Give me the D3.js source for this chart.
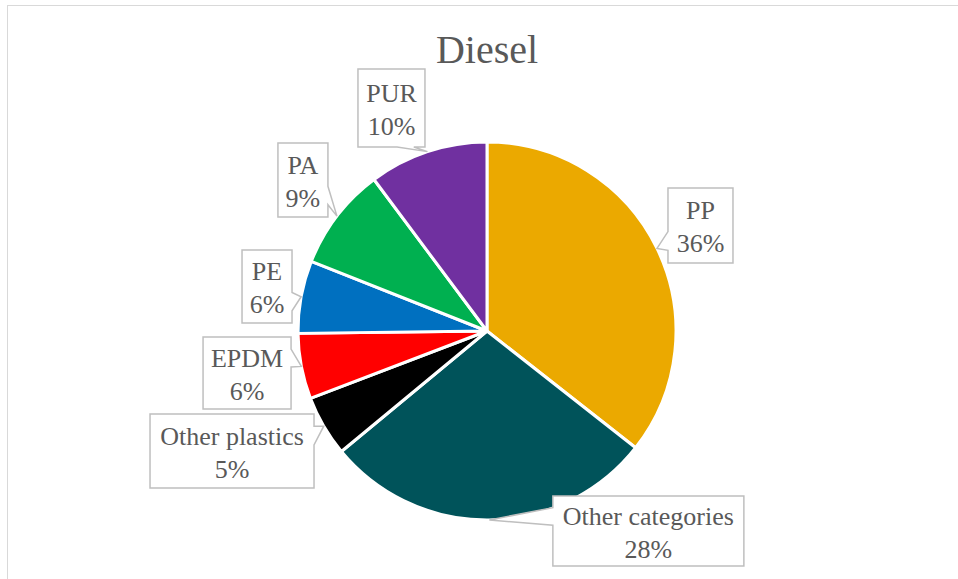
<!DOCTYPE html>
<html>
<head>
<meta charset="utf-8">
<script src="https://cdn.jsdelivr.net/npm/d3@7"></script>
<style>
  html, body { margin: 0; padding: 0; background: #fff; }
  svg { display: block; }
  text { font-family: "Liberation Serif", serif; fill: #595959; }
</style>
</head>
<body>
<svg></svg>
<script>
var width = 958;
var height = 579;

var title = "Diesel";
var categories = ["PP", "Other categories", "Other plastics", "EPDM", "PE", "PA", "PUR"];
var values = [35.6, 28.4, 5.2, 5.6, 6.2, 8.8, 10.2];
var colors = ["#EBA900", "#00535A", "#000000", "#FF0000", "#0070C0", "#00B050", "#7030A0"];

// label box: offset of box centre from the pointer tip, and box size
var labelLayout = [
  { dx: 43.5, dy: -23, w: 65, h: 75 },
  { dx: 159, dy: 11, w: 191, h: 70 },
  { dx: -91.7, dy: 24.8, w: 164, h: 74 },
  { dx: -54.3, dy: 6.6, w: 88, h: 72 },
  { dx: -34.1, dy: -10.3, w: 50, h: 73 },
  { dx: -34, dy: -36, w: 50, h: 74 },
  { dx: -36, dy: -43.6, w: 67, h: 78 }
];

var cx = 487, cy = 331, radius = 189;

var svg = d3.select("svg")
            .attr("width", width)
            .attr("height", height);

// chart frame
svg.append("rect")
    .attr("x", 7.5)
    .attr("y", 5.5)
    .attr("width", width + 20)
    .attr("height", height + 20)
    .attr("fill", "none")
    .attr("stroke", "#D9D9D9")
    .attr("stroke-width", 1);

svg.append("text")
    .attr("x", cx)
    .attr("y", 63)
    .attr("text-anchor", "middle")
    .attr("font-size", "40px")
    .text(title);

var data = categories.map(function (c, i) {
  return { name: c, value: values[i], color: colors[i], layout: labelLayout[i] };
});
var total = d3.sum(values);

var pie = d3.pie().sort(null).value(d => d.value);
var arcs = pie(data);

var arc = d3.arc().innerRadius(0).outerRadius(radius);
var edge = d3.arc().innerRadius(radius).outerRadius(radius);

var g = svg.append("g").attr("transform", "translate(" + cx + "," + cy + ")");

g.selectAll("path.slice")
  .data(arcs)
  .enter()
  .append("path")
    .attr("class", "slice")
    .attr("d", arc)
    .attr("fill", d => d.data.color)
    .attr("stroke", "#fff")
    .attr("stroke-width", 3)
    .attr("stroke-linejoin", "round");

function calloutPath(x0, y0, w, h, tx, ty) {
  var x1 = x0 + w, y1 = y0 + h;
  var mx = x0 + w / 2, my = y0 + h / 2;
  var rx = (tx - mx) / w, ry = (ty - my) / h;
  var pts = [[x0, y0]];
  var inside = Math.abs(rx) <= 0.5 && Math.abs(ry) <= 0.5;
  var side = inside ? null : (Math.abs(rx) > Math.abs(ry) ? (rx > 0 ? "r" : "l") : (ry > 0 ? "b" : "t"));
  var fy = ty < my ? [2, 5] : [7, 10];
  var fx = tx < mx ? [2, 5] : [7, 10];
  var b1y = y0 + h * fy[0] / 12, b2y = y0 + h * fy[1] / 12;
  var b1x = x0 + w * fx[0] / 12, b2x = x0 + w * fx[1] / 12;
  if (side === "t") pts.push([b1x, y0], [tx, ty], [b2x, y0]);
  pts.push([x1, y0]);
  if (side === "r") pts.push([x1, b1y], [tx, ty], [x1, b2y]);
  pts.push([x1, y1]);
  if (side === "b") pts.push([b2x, y1], [tx, ty], [b1x, y1]);
  pts.push([x0, y1]);
  if (side === "l") pts.push([x0, b2y], [tx, ty], [x0, b1y]);
  return "M" + pts.map(p => p[0] + "," + p[1]).join("L") + "Z";
}

var labels = g.selectAll("g.label")
  .data(arcs)
  .enter()
  .append("g")
    .attr("class", "label");

labels.each(function (d) {
  var tip = edge.centroid(d);
  var L = d.data.layout;
  var bx = tip[0] + L.dx, by = tip[1] + L.dy;
  var sel = d3.select(this);
  sel.append("path")
    .attr("d", calloutPath(bx - L.w / 2, by - L.h / 2, L.w, L.h, tip[0], tip[1]))
    .attr("fill", "#fff")
    .attr("stroke", "#BFBFBF")
    .attr("stroke-width", 1.5);
  sel.append("text")
    .attr("x", bx)
    .attr("y", by - 6)
    .attr("text-anchor", "middle")
    .attr("font-size", "26px")
    .text(d.data.name);
  sel.append("text")
    .attr("x", bx)
    .attr("y", by + 27)
    .attr("text-anchor", "middle")
    .attr("font-size", "26px")
    .text(Math.round(d.data.value / total * 100) + "%");
});
</script>
</body>
</html>
